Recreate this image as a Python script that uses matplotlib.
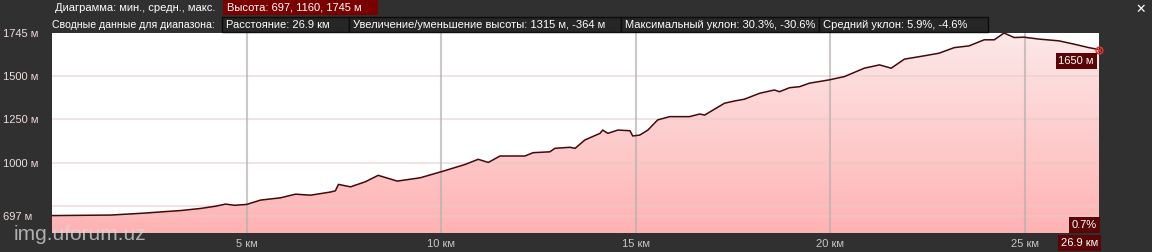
import numpy as np
import matplotlib
matplotlib.use("Agg")
import matplotlib.pyplot as plt
from matplotlib.patches import Polygon, Rectangle

# profile: distance (km) and elevation (m)
dist_km = [0.0, 1.51, 2.36, 2.92, 3.31, 3.82, 4.21, 4.46, 4.69, 5.0, 5.36, 5.87,
           6.26, 6.64, 7.15, 7.28, 7.36, 7.67, 8.05, 8.38, 8.87, 9.46, 10.05,
           10.62, 10.95, 11.21, 11.51, 12.15, 12.36, 12.79, 12.92, 13.31, 13.44,
           13.69, 14.08, 14.15, 14.28, 14.54, 14.85, 14.92, 15.10, 15.31, 15.56,
           15.87, 16.38, 16.64, 16.77, 17.03, 17.28, 17.54, 17.79, 18.18, 18.56,
           18.69, 18.95, 19.21, 19.46, 19.97, 20.36, 20.87, 21.26, 21.56, 21.90,
           22.41, 22.79, 23.18, 23.56, 23.95, 24.21, 24.46, 24.72, 24.97, 25.36,
           25.87, 26.26, 26.64, 26.9]
elev_m = [697, 700, 711, 720, 726, 738, 751, 763, 756, 761, 786, 799,
          820, 814, 832, 839, 876, 862, 891, 928, 895, 914, 952,
          991, 1020, 1002, 1039, 1039, 1058, 1063, 1083, 1089, 1083,
          1131, 1169, 1188, 1169, 1188, 1184, 1154, 1159, 1188, 1246,
          1265, 1265, 1280, 1274, 1309, 1342, 1355, 1365, 1399, 1418,
          1408, 1431, 1437, 1457, 1476, 1495, 1543, 1562, 1543, 1595,
          1614, 1629, 1661, 1671, 1706, 1706, 1745, 1719, 1721, 1710,
          1700, 1681, 1661, 1650]

y_ticks = [697, 1000, 1250, 1500, 1745]
y_grid = [697, 750, 1000, 1250, 1500]
x_ticks = [5, 10, 15, 20, 25]

header1 = "Диаграмма: мин., средн., макс."
header1_box = "Высота: 697, 1160, 1745 м"
header2 = "Сводные данные для диапазона:"
summary = ["Расстояние: 26.9 км",
           "Увеличение/уменьшение высоты: 1315 м, -364 м",
           "Максимальный уклон: 30.3%, -30.6%",
           "Средний уклон: 5.9%, -4.6%"]
summary_edges = [222, 349, 621, 819, 988]

W, H = 1152, 252
BG = "#303030"
FONT = "Liberation Sans"

fig = plt.figure(figsize=(W / 100, H / 100), dpi=100, facecolor=BG)

def fx(x):
    return x / W

def fy(y):
    return 1 - y / H

ax = fig.add_axes([fx(52), fy(233), (1099 - 52) / W, 200 / H])
ax.set_facecolor("white")
ymin, ymax = 597, 1745
ax.set_xlim(0, dist_km[-1])
ax.set_ylim(ymin, ymax)

# gradient fill under the profile
grad = np.linspace(0, 1, 256).reshape(-1, 1)
bottom_c = np.array([1.0, 0.70, 0.70])
top_c = np.array([0.99, 0.91, 0.91])
img = bottom_c + grad[..., None] * (top_c - bottom_c)
im = ax.imshow(img, extent=[0, dist_km[-1], ymin, ymax], origin="lower",
               aspect="auto", zorder=1)
verts = [(dist_km[0], ymin)] + list(zip(dist_km, elev_m)) + [(dist_km[-1], ymin)]
poly = Polygon(verts, closed=True, facecolor="none", edgecolor="none")
ax.add_patch(poly)
im.set_clip_path(poly)

for g in y_grid:
    ax.axhline(g, color="#e6cccc", lw=1.3, alpha=0.6, zorder=2)
for t in x_ticks:
    ax.axvline(t, color="#b8b0b0", lw=1.5, alpha=0.7, zorder=2)

ax.plot(dist_km, elev_m, color="#420a0a", lw=1.1, zorder=3)
ax.plot(dist_km[-1], elev_m[-1], marker="o", mfc="none", mec="#e03030",
        ms=5, mew=1.0, zorder=4, clip_on=False)
ax.plot(dist_km[-1], elev_m[-1], marker="x", color="#e03030", ms=3.5, mew=0.9,
        zorder=4, clip_on=False)

for s in ax.spines.values():
    s.set_visible(False)

ax.set_yticks(y_ticks)
ax.set_yticklabels([f"{v} м" for v in y_ticks])
ax.tick_params(axis="y", length=0, pad=35, colors="#f0dcdc", labelsize=8)
for lab in ax.get_yticklabels():
    lab.set_horizontalalignment("left")
    lab.set_fontfamily(FONT)

ax.set_xticks(x_ticks)
ax.set_xticklabels([f"{v} км" for v in x_ticks])
ax.tick_params(axis="x", length=0, pad=4, colors="#c8c8c8", labelsize=8)
for lab in ax.get_xticklabels():
    lab.set_fontfamily(FONT)

# value boxes at the right end
box = dict(boxstyle="square,pad=0.25", fc="#5a0505", ec="none")
fig.text(fx(1094), fy(61), f"{elev_m[-1]} м", ha="right", va="center",
         color="white", fontsize=8, family=FONT, bbox=box)
fig.text(fx(1097), fy(225), "0.7%", ha="right", va="center",
         color="white", fontsize=8, family=FONT, bbox=box)
fig.text(fx(1098), fy(243), f"{dist_km[-1]} км", ha="right", va="center",
         color="white", fontsize=8, family=FONT, bbox=box)

# header rows
fig.text(fx(55), fy(8), header1, ha="left", va="center", color="white",
         fontsize=8, family=FONT)
fig.patches.append(Rectangle((fx(223), fy(15)), fx(378 - 223), 15 / H,
                             transform=fig.transFigure, fc="#7a0000", ec="none"))
fig.text(fx(227), fy(8), header1_box, ha="left", va="center", color="white",
         fontsize=8, family=FONT)

fig.text(fx(52), fy(24.5), header2, ha="left", va="center", color="white",
         fontsize=7.6, family=FONT)
for i, s in enumerate(summary):
    x0, x1 = summary_edges[i], summary_edges[i + 1]
    fig.patches.append(Rectangle((fx(x0), fy(32)), fx(x1 - x0), 15 / H,
                                 transform=fig.transFigure, fc="#262626",
                                 ec="#0c0c0c", lw=1))
    fig.text(fx(x0 + 4), fy(24.5), s, ha="left", va="center", color="white",
             fontsize=8, family=FONT)

fig.text(fx(1141), fy(9), "✕", ha="center", va="center", color="white",
         fontsize=9, fontweight="bold", family="DejaVu Sans")

# watermark
fig.text(fx(14), fy(234), "img.uforum.uz", ha="left", va="center",
         color="#d8d8d8", alpha=0.75, fontsize=15, family=FONT)

fig.savefig("out.png", dpi=100, facecolor=BG)
